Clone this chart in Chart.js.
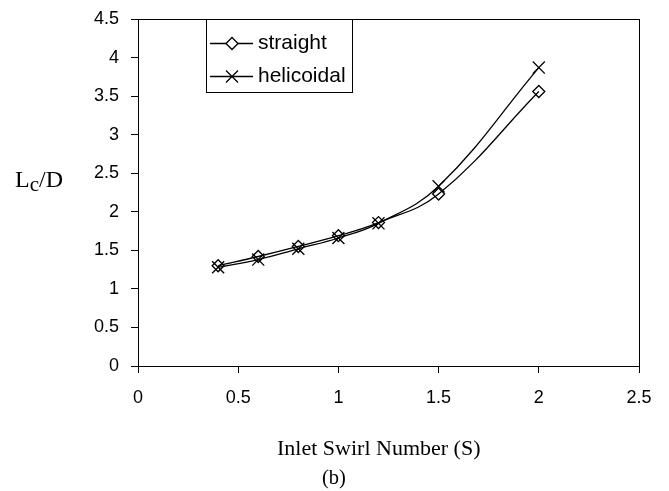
<!DOCTYPE html>
<html lang="en">
<head>
  <meta charset="UTF-8">
  <title>Lc/D vs Inlet Swirl Number</title>
  <script src="https://cdn.jsdelivr.net/npm/chart.js"></script>
  <style>
    html, body { margin: 0; padding: 0; background: #fff; }
    #wrap { width: 669px; height: 491px; position: relative; }
  </style>
</head>
<body>
  <div id="wrap"><canvas id="swirlChart" width="669" height="491"></canvas></div>

  <script>
    // inlet swirl number S
    const swirl = [0.4, 0.6, 0.8, 1.0, 1.2, 1.5, 2.0];
    // Lc/D for each guide vane type
    const straight   = [1.30, 1.42, 1.55, 1.69, 1.86, 2.23, 3.56];
    const helicoidal = [1.28, 1.38, 1.52, 1.66, 1.85, 2.33, 3.87];
    const seriesNames = ['straight', 'helicoidal'];

    const xTicks = [0, 0.5, 1, 1.5, 2, 2.5];
    const yTicks = [0, 0.5, 1, 1.5, 2, 2.5, 3, 3.5, 4, 4.5];

    const sansFont = '"Liberation Sans", Arial, sans-serif';
    const serifFont = '"Liberation Serif", "Times New Roman", serif';

    const toPoints = ys => swirl.map((s, i) => ({ x: s, y: ys[i] }));

    // frame, legend box and axis titles
    const decorations = {
      id: 'decorations',
      afterDraw(chart) {
        const c = chart.ctx;
        const a = chart.chartArea;
        c.save();
        c.strokeStyle = '#000';
        c.lineWidth = 1;
        c.strokeRect(Math.round(a.left) + 0.5, Math.round(a.top) + 0.5,
                     Math.round(a.right - a.left), Math.round(a.bottom - a.top));

        // legend
        const lx = 206, ly = Math.round(a.top), lw = 146, lh = 73;
        c.fillStyle = '#fff';
        c.fillRect(lx, ly, lw, lh);
        c.strokeRect(lx + 0.5, ly + 0.5, lw, lh);
        c.font = '21px ' + sansFont;
        c.textBaseline = 'middle';
        c.textAlign = 'left';
        const rows = [ly + 24, ly + 57];
        chart.data.datasets.forEach((ds, i) => {
          const y = rows[i];
          c.beginPath();
          c.moveTo(lx + 4, y + 0.5);
          c.lineTo(lx + 47, y + 0.5);
          c.lineWidth = 1.3;
          c.strokeStyle = '#000';
          c.stroke();
          c.fillStyle = '#fff';
          Chart.helpers.drawPoint(c, {
            pointStyle: ds.pointStyle,
            radius: ds.pointRadius,
            borderWidth: ds.pointBorderWidth,
            rotation: 0
          }, lx + 26, y + 0.5);
          c.fillStyle = '#000';
          c.fillText(ds.label, lx + 52, y);
        });

        // y title: Lc/D with subscript c
        c.font = '24px ' + serifFont;
        c.textBaseline = 'alphabetic';
        let x = 15;
        const by = 187;
        c.fillText('L', x, by);
        x += c.measureText('L').width;
        c.font = '21px ' + serifFont;
        c.fillText('c', x, by + 4);
        x += c.measureText('c').width;
        c.font = '24px ' + serifFont;
        c.fillText('/D', x, by);

        // x title and panel tag
        c.font = '22px ' + serifFont;
        c.fillText('Inlet Swirl Number (S)', 277, 455);
        c.font = '20.5px ' + serifFont;
        c.fillText('(b)', 322, 484);
        c.restore();
      }
    };

    const common = {
      borderColor: '#000',
      borderWidth: 1.3,
      tension: 0.4,
      fill: false,
      showLine: true,
      pointBorderColor: '#000',
      pointBackgroundColor: 'rgba(255,255,255,0)',
      pointBorderWidth: 1.3
    };

    new Chart(document.getElementById('swirlChart'), {
      type: 'scatter',
      data: {
        datasets: [
          Object.assign({}, common, {
            label: seriesNames[0],
            data: toPoints(straight),
            pointStyle: 'rectRot',
            pointRadius: 6
          }),
          Object.assign({}, common, {
            label: seriesNames[1],
            data: toPoints(helicoidal),
            pointStyle: 'crossRot',
            pointRadius: 8.5
          })
        ]
      },
      options: {
        responsive: false,
        animation: false,
        layout: { padding: { top: 19, right: 30, left: 0, bottom: 0 } },
        plugins: {
          legend: { display: false },
          tooltip: { enabled: false }
        },
        scales: {
          x: {
            type: 'linear',
            min: 0, max: 2.5,
            afterBuildTicks: s => { s.ticks = xTicks.map(v => ({ value: v })); },
            afterFit: s => { s.height = 125; s.paddingLeft = 0; s.paddingRight = 0; },
            grid: { drawOnChartArea: false, color: '#000', tickLength: 7 },
            border: { color: '#000', width: 1 },
            ticks: {
              color: '#000',
              padding: 14,
              maxRotation: 0,
              callback: v => String(v),
              font: { family: sansFont, size: 18 }
            }
          },
          y: {
            type: 'linear',
            min: 0, max: 4.5,
            afterBuildTicks: s => { s.ticks = yTicks.map(v => ({ value: v })); },
            afterFit: s => { s.width = 138; s.paddingTop = 0; s.paddingBottom = 0; },
            grid: { drawOnChartArea: false, color: '#000', tickLength: 7 },
            border: { color: '#000', width: 1 },
            ticks: {
              color: '#000',
              padding: 12,
              callback: v => String(v),
              font: { family: sansFont, size: 18 }
            }
          }
        }
      },
      plugins: [decorations]
    });
  </script>
</body>
</html>
